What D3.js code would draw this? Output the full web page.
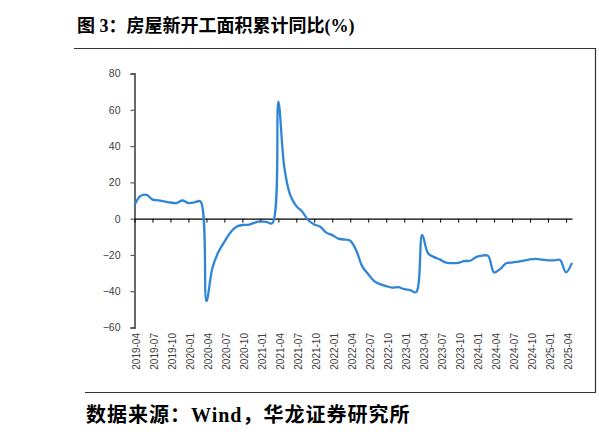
<!DOCTYPE html>
<html>
<head>
<meta charset="utf-8">
<script src="https://cdn.jsdelivr.net/npm/d3@7"></script>
<style>
  body { margin: 0; background: #ffffff; }
  svg { display: block; }
</style>
</head>
<body>
<script>
// category axis as labelled in the chart (monthly, 2019-04 .. 2025-05)
var startYear = 2019, startMonth = 4, monthCount = 74;
var months = [];
for (var i = 0; i < monthCount; i++) {
  var m = startMonth - 1 + i;
  var yy = startYear + Math.floor(m / 12);
  var mm = (m % 12) + 1;
  months.push(yy + "-" + (mm < 10 ? "0" + mm : mm));
}

// 房屋新开工面积累计同比 (%)
var values = [
  7.5, 12.5, 13.1, 10.5, 10.1, 9.5, 8.9, 8.6, 10.0, 8.6, 9.0, 9.5,
  -45.5, -27.2, -18.4, -12.8, -7.6, -4.5, -3.5, -3.4, -2.3, -1.5, -1.8, -2.5,
  64.5, 28.2, 12.8, 6.9, 3.8, -0.9, -3.2, -4.5, -7.7, -9.1, -11.0, -11.5,
  -12.2, -17.5, -26.3, -30.6, -34.4, -36.1, -37.2, -38.0, -37.8, -38.9, -39.4, -40.5,
  -9.0, -19.2, -21.2, -22.6, -24.3, -24.5, -24.4, -23.4, -23.2, -21.2, -20.4, -20.5,
  -29.7, -27.8, -24.6, -24.2, -23.7, -23.2, -22.5, -22.2, -22.6, -23.0, -23.0, -22.8,
  -29.6, -24.4
];

var xTickLabels = [
  "2019-04", "2019-07", "2019-10", "2020-01", "2020-04", "2020-07", "2020-10",
  "2021-01", "2021-04", "2021-07", "2021-10", "2022-01", "2022-04", "2022-07",
  "2022-10", "2023-01", "2023-04", "2023-07", "2023-10", "2024-01", "2024-04",
  "2024-07", "2024-10", "2025-01", "2025-04"
];
var yTicks = [-60, -40, -20, 0, 20, 40, 60, 80];

var titleText = "图 3：房屋新开工面积累计同比(%)";
var sourceText = "数据来源：Wind，华龙证券研究所";

var width = 599;
var height = 441;

var svg = d3.select("body").append("svg")
  .attr("width", width)
  .attr("height", height);

// title + frame lines
svg.append("text")
  .attr("x", 77)
  .attr("y", 32)
  .style("font-family", "'Liberation Serif', 'Noto Sans CJK SC', serif")
  .style("font-weight", "bold")
  .style("font-size", "18px")
  .style("fill", "#000")
  .text(titleText);

svg.append("line")
  .attr("x1", 74).attr("x2", 596)
  .attr("y1", 48.5).attr("y2", 48.5)
  .style("stroke", "#333").style("stroke-width", 1.2);
svg.append("line")
  .attr("x1", 595.5).attr("x2", 595.5)
  .attr("y1", 48).attr("y2", 392.5)
  .style("stroke", "#333").style("stroke-width", 1.2);
svg.append("line")
  .attr("x1", 85).attr("x2", 596)
  .attr("y1", 392.5).attr("y2", 392.5)
  .style("stroke", "#333").style("stroke-width", 1.2);

svg.append("text")
  .attr("x", 86)
  .attr("y", 422)
  .style("font-family", "'Liberation Serif', 'Noto Sans CJK SC', serif")
  .style("font-weight", "bold")
  .style("font-size", "20px")
  .style("letter-spacing", "1px")
  .style("fill", "#000")
  .text(sourceText);

// scales
var x = d3.scalePoint()
  .domain(months)
  .range([134.5, 572]);

var y = d3.scaleLinear()
  .domain([-60, 80])
  .range([327.5, 73.5]);

// y axis
var yAxis = svg.append("g")
  .attr("transform", "translate(134.5,0)")
  .call(d3.axisLeft(y).tickValues(yTicks).tickSizeInner(4).tickSizeOuter(4).tickPadding(10));
yAxis.select(".domain").style("stroke", "#595959").style("stroke-width", 1.8);
yAxis.selectAll(".tick line").style("stroke", "#595959").style("stroke-width", 1.2);
yAxis.selectAll(".tick text")
  .style("font-family", "'Liberation Sans', Arial, sans-serif")
  .style("font-size", "10.5px")
  .style("fill", "#404040");

// zero line with tick marks
var zeroAxis = svg.append("g")
  .attr("transform", "translate(0," + y(0) + ")")
  .call(d3.axisBottom(x).tickValues(xTickLabels).tickSizeInner(4).tickSizeOuter(0).tickFormat(""));
zeroAxis.select(".domain").style("stroke", "#000").style("stroke-width", 1.2);
zeroAxis.selectAll(".tick line").style("stroke", "#000").style("stroke-width", 1);

// rotated month labels at the bottom
var labelAxis = svg.append("g")
  .attr("transform", "translate(1.5,331)")
  .call(d3.axisBottom(x).tickValues(xTickLabels).tickSize(0));
labelAxis.select(".domain").remove();
labelAxis.selectAll(".tick text")
  .attr("transform", "rotate(-90)")
  .attr("x", -2)
  .attr("y", 0)
  .attr("dy", "0.35em")
  .style("text-anchor", "end")
  .style("font-family", "'Liberation Sans', Arial, sans-serif")
  .style("font-size", "10px")
  .style("fill", "#404040");

// series line
var line = d3.line()
  .x(function(d, i) { return x(months[i]); })
  .y(function(d) { return y(d); })
  .curve(d3.curveCatmullRom.alpha(0.5));

svg.append("path")
  .datum(values)
  .attr("d", line)
  .style("fill", "none")
  .style("stroke", "#2f86d9")
  .style("stroke-width", 2.3)
  .style("stroke-linejoin", "round");
</script>
</body>
</html>
